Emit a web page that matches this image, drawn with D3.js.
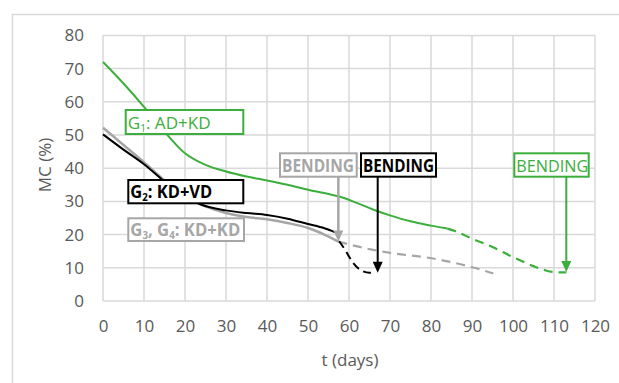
<!DOCTYPE html>
<html>
<head>
<meta charset="utf-8">
<script src="https://cdn.jsdelivr.net/npm/d3@7"></script>
<style>
  body { margin: 0; background: #fff; }
  text { font-family: "Open Sans", sans-serif; }
</style>
</head>
<body>
<div id="chart"></div>
<script>
// values: [t (days), MC (%)]
var g1Dried = [[0, 72], [5, 65.5], [10, 58.5], [15, 51], [20, 44.5], [25, 41], [30, 39], [35, 37.5],
               [40, 36.3], [45, 35], [50, 33.5], [55, 32.2], [58, 31.3], [62, 29.5], [66, 27.5],
               [70, 25.8], [75, 24], [80, 22.7], [84, 21.8]];
var g1Bent  = [[84, 21.8], [86, 21], [90, 18.8], [95, 16.3], [100, 13.2], [105, 10.5], [108, 9.2],
               [111, 8.6], [113, 8.6]];
var g2Dried = [[0, 50.2], [5, 45.6], [10, 41.2], [15, 36], [20, 31.5], [24, 29], [30, 27.3], [35, 26.5],
               [40, 25.9], [45, 24.8], [50, 23.2], [54, 21.9], [57, 20.5]];
var g2Bent  = [[57.6, 18], [59, 15.5], [61, 11.5], [63, 9.2], [65, 8.5], [66.5, 8.5]];
var g34Dried = [[0, 52.2], [5, 47], [10, 41.8], [15, 36.3], [20, 31.5], [25, 28.5], [30, 26.5], [35, 25.3],
                [40, 24.6], [45, 23.5], [50, 22], [54, 20], [57.4, 17.9]];
var g34Bent  = [[57.4, 17.9], [64.3, 15.8], [70, 14.5], [80.5, 12.8], [90.3, 10.1], [95.2, 8.3]];

var xTicks = [0, 10, 20, 30, 40, 50, 60, 70, 80, 90, 100, 110, 120];
var yTicks = [0, 10, 20, 30, 40, 50, 60, 70, 80];

// bending moments: day, MC at arrow tip
var bendDays = [57.4, 67, 113];
var bendTips = [17.9, 8.5, 8.7];

function init(){
	var w = 619, h = 383;
	var green = "#3cae3c", grey = "#a6a6a6", black = "#000";

	var svg = d3.select("#chart").append("svg")
		.attr("width", w).attr("height", h);

	svg.append("rect")
		.attr("x", 12.5).attr("y", 14.5)
		.attr("width", 640).attr("height", 400)
		.attr("fill", "none").attr("stroke", "#d9d9d9").attr("stroke-width", 1.5);

	var x = d3.scaleLinear().domain([0, 120]).range([103, 595]);
	var y = d3.scaleLinear().domain([0, 80]).range([301, 35.4]);

	// grid
	svg.append("g").selectAll("line").data(xTicks).enter().append("line")
		.attr("x1", function(d){ return x(d); }).attr("x2", function(d){ return x(d); })
		.attr("y1", y(0)).attr("y2", y(80))
		.attr("stroke", "#d9d9d9").attr("stroke-width", 1.5);
	svg.append("g").selectAll("line").data(yTicks).enter().append("line")
		.attr("x1", x(0)).attr("x2", x(120))
		.attr("y1", function(d){ return y(d); }).attr("y2", function(d){ return y(d); })
		.attr("stroke", "#d9d9d9").attr("stroke-width", 1.5);

	// axes (labels only)
	var xAxis = svg.append("g").attr("transform", "translate(0," + y(0) + ")")
		.call(d3.axisBottom(x).tickValues(xTicks).tickSize(0).tickPadding(19));
	var yAxis = svg.append("g").attr("transform", "translate(" + x(0) + ",0)")
		.call(d3.axisLeft(y).tickValues(yTicks).tickSize(0).tickPadding(19));
	[xAxis, yAxis].forEach(function(a){
		a.select(".domain").remove();
		a.selectAll("text").attr("fill", "#595959").attr("font-size", 17)
			.style("font-family", "'Open Sans', sans-serif");
	});

	svg.append("text").text("t (days)")
		.attr("x", 350).attr("y", 366).attr("text-anchor", "middle")
		.attr("fill", "#595959").attr("font-size", 17);
	svg.append("text").text("MC (%)")
		.attr("transform", "translate(51,165) rotate(-90)").attr("text-anchor", "middle")
		.attr("fill", "#595959").attr("font-size", 17);

	// curves
	var line = d3.line()
		.x(function(d){ return x(d[0]); })
		.y(function(d){ return y(d[1]); })
		.curve(d3.curveMonotoneX);

	function draw(data, color, width, dash){
		svg.append("path").attr("d", line(data))
			.attr("fill", "none").attr("stroke", color).attr("stroke-width", width)
			.attr("stroke-dasharray", dash || null);
	}
	draw(g34Dried, grey, 2.5);
	draw(g34Bent, grey, 2.2, "9,6");
	draw(g2Dried, black, 2);
	draw(g2Bent, black, 2, "8,5");
	draw(g1Dried, green, 2);
	draw(g1Bent, green, 2.2, "9,6");

	// arrows
	var arrowColors = [grey, black, green];
	svg.append("g").selectAll("line").data(bendDays).enter().append("line")
		.attr("x1", function(d){ return x(d); }).attr("x2", function(d){ return x(d); })
		.attr("y1", 176).attr("y2", function(d, i){ return y(bendTips[i]) - 8; })
		.attr("stroke", function(d, i){ return arrowColors[i]; })
		.attr("stroke-width", function(d, i){ return i == 0 ? 2.5 : 2; });
	svg.append("g").selectAll("path").data(bendDays).enter().append("path")
		.attr("d", function(d, i){
			var tx = x(d), ty = y(bendTips[i]);
			return "M" + tx + "," + ty + "L" + (tx - 5) + "," + (ty - 11) + "L" + (tx + 5) + "," + (ty - 11) + "Z";
		})
		.attr("fill", function(d, i){ return arrowColors[i]; });

	// label boxes
	function label(x0, x1, y0, y1, color, bold, parts, len){
		svg.append("rect")
			.attr("x", x0).attr("y", y0).attr("width", x1 - x0).attr("height", y1 - y0)
			.attr("fill", "#fff").attr("stroke", color).attr("stroke-width", 2);
		var t = svg.append("text")
			.attr("x", x0 + 2).attr("y", y1 - 5)
			.attr("fill", color).attr("font-size", 17)
			.attr("font-weight", bold ? "bold" : "normal")
			.attr("textLength", len).attr("lengthAdjust", "spacingAndGlyphs");
		parts.forEach(function(p){
			if (p.sub) {
				t.append("tspan").text(p.sub).attr("font-size", 10).attr("dy", 3);
			} else {
				t.append("tspan").text(p.t).attr("dy", p.up ? -3 : null);
			}
		});
	}
	label(125.7, 243.3, 110, 134, green, false,
		[{t: "G"}, {sub: "1"}, {t: ": AD+KD", up: true}], 83);
	label(128.3, 243.3, 180, 203.3, black, true,
		[{t: "G"}, {sub: "2"}, {t: ": KD+VD", up: true}], 82);
	label(128.3, 244, 218.3, 241, grey, true,
		[{t: "G"}, {sub: "3"}, {t: ", G", up: true}, {sub: "4"}, {t: ": KD+KD", up: true}], 110);
	label(280, 356.7, 153.3, 176.7, grey, true, [{t: "BENDING"}], 72);
	label(361, 436, 153.3, 176.7, black, true, [{t: "BENDING"}], 71);
	label(514.3, 588.7, 153.3, 176.7, green, false, [{t: "BENDING"}], 72);
}

window.onload = init;
</script>
</body>
</html>
